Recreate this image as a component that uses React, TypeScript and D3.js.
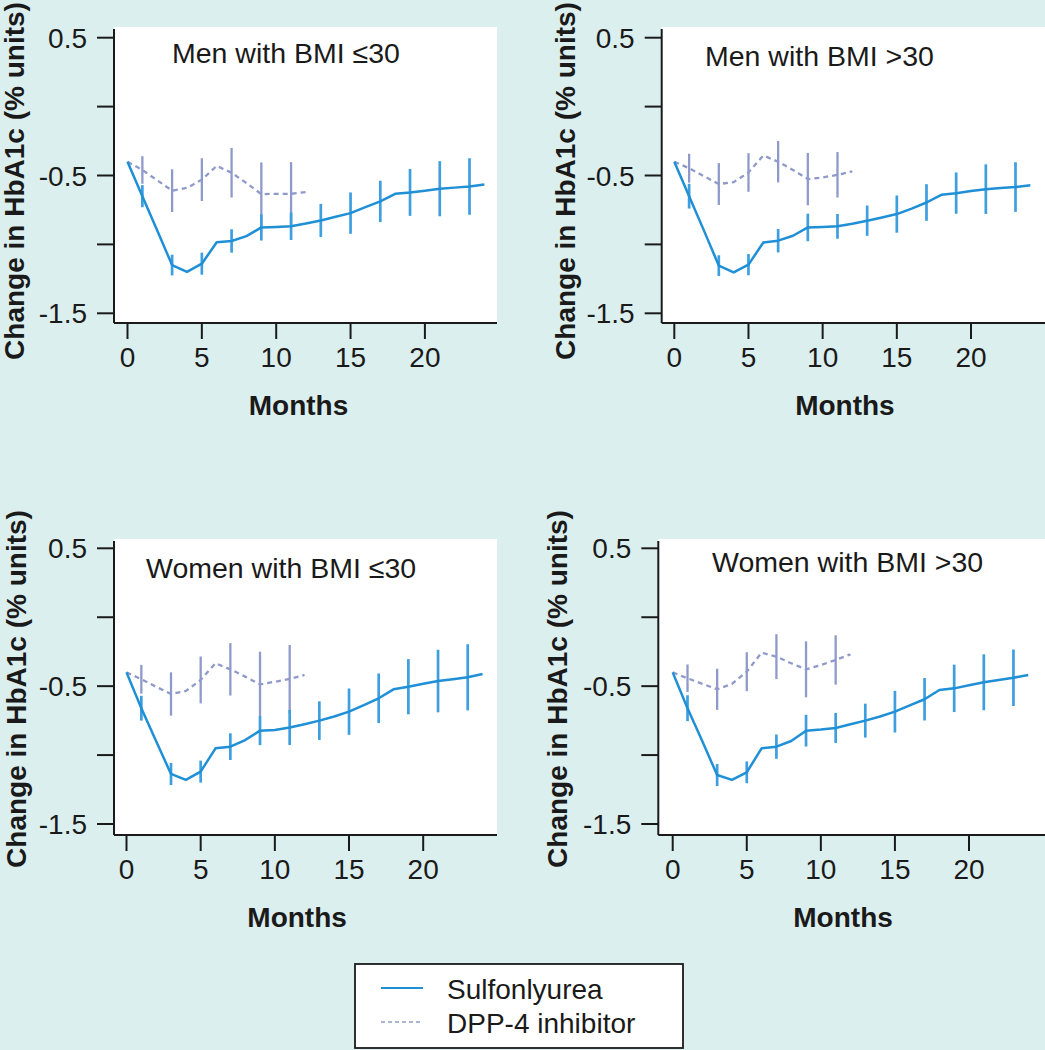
import React from "react";
import * as d3 from "d3";

// ---------- data ----------
const suMonths = d3.range(0, 25);
const dppMonths = d3.range(0, 13);
const suErrMonths = [1, 3, 5, 7, 9, 11, 13, 15, 17, 19, 21, 23];
const dppErrMonths = [1, 3, 5, 7, 9, 11];

const xTicks = [0, 5, 10, 15, 20];
const yTicks = [0.5, 0, -0.5, -1, -1.5];
const yTickLabels = ["0.5", "", "-0.5", "", "-1.5"];

const panelTitles = ["Men with BMI ≤30", "Men with BMI >30", "Women with BMI ≤30", "Women with BMI >30"];

const suMenLow = [-0.40, -0.65, -0.90, -1.15, -1.20, -1.14, -0.985, -0.975, -0.94, -0.877, -0.873, -0.868, -0.848, -0.826, -0.80, -0.773, -0.73, -0.688, -0.633, -0.623, -0.61, -0.596, -0.588, -0.58, -0.565];
const suMenHigh = [-0.40, -0.65, -0.90, -1.154, -1.203, -1.147, -0.986, -0.973, -0.937, -0.877, -0.874, -0.869, -0.85, -0.828, -0.805, -0.78, -0.74, -0.696, -0.64, -0.628, -0.613, -0.599, -0.591, -0.584, -0.57];
const suWomenLow = [-0.40, -0.66, -0.90, -1.137, -1.18, -1.12, -0.951, -0.939, -0.891, -0.823, -0.818, -0.80, -0.776, -0.75, -0.72, -0.685, -0.638, -0.588, -0.523, -0.504, -0.483, -0.463, -0.45, -0.436, -0.412];
const suWomenHigh = [-0.40, -0.66, -0.90, -1.145, -1.18, -1.125, -0.951, -0.939, -0.898, -0.823, -0.815, -0.803, -0.777, -0.75, -0.72, -0.685, -0.64, -0.595, -0.528, -0.516, -0.494, -0.472, -0.455, -0.439, -0.419];

const dppMenLow = [-0.40, -0.46, -0.535, -0.61, -0.59, -0.53, -0.43, -0.48, -0.555, -0.635, -0.633, -0.633, -0.62];
const dppMenHigh = [-0.40, -0.447, -0.505, -0.562, -0.548, -0.478, -0.355, -0.40, -0.46, -0.526, -0.514, -0.495, -0.47];
const dppWomenLow = [-0.40, -0.45, -0.505, -0.557, -0.535, -0.455, -0.334, -0.378, -0.431, -0.487, -0.468, -0.448, -0.419];
const dppWomenHigh = [-0.40, -0.443, -0.483, -0.523, -0.484, -0.395, -0.257, -0.286, -0.334, -0.378, -0.347, -0.31, -0.269];

const suErrMenLow = [0.08, 0.075, 0.08, 0.085, 0.095, 0.10, 0.12, 0.15, 0.15, 0.17, 0.20, 0.205];
const suErrMenHigh = [0.09, 0.075, 0.077, 0.085, 0.10, 0.09, 0.11, 0.135, 0.133, 0.15, 0.18, 0.18];
const suErrWomenLow = [0.09, 0.08, 0.08, 0.097, 0.105, 0.127, 0.14, 0.168, 0.18, 0.20, 0.227, 0.24];
const suErrWomenHigh = [0.094, 0.08, 0.079, 0.088, 0.115, 0.109, 0.123, 0.151, 0.154, 0.172, 0.203, 0.205];

const dppErrMenLow = [0.10, 0.155, 0.155, 0.18, 0.23, 0.23];
const dppErrMenHigh = [0.105, 0.152, 0.14, 0.15, 0.19, 0.165];
const dppErrWomenLow = [0.104, 0.157, 0.17, 0.19, 0.237, 0.247];
const dppErrWomenHigh = [0.10, 0.149, 0.141, 0.163, 0.203, 0.179];

const legendLabels = ["Sulfonlyurea", "DPP-4 inhibitor"];

// ---------- layout ----------
const BG = "#dcefef";
const SU_COLOR = "#1f8fd6";
const SU_ERR = "#3d9fe0";
const DPP_COLOR = "#8f9acb";
const FONT = "'Liberation Sans', Arial, Helvetica, sans-serif";

const panels = [
  { title: panelTitles[0], su: suMenLow, dpp: dppMenLow, suErr: suErrMenLow, dppErr: dppErrMenLow,
    left: 114, right: 497, top: 27, bottom: 323, x0: 127.5, pxm: 14.87, yTop: 37.7, yBot: 313.3,
    titleX: 172, titleY: 63, ylabX: 24, ylabY: 181 },
  { title: panelTitles[1], su: suMenHigh, dpp: dppMenHigh, suErr: suErrMenHigh, dppErr: dppErrMenHigh,
    left: 661.7, right: 1045, top: 27, bottom: 323, x0: 674.3, pxm: 14.835, yTop: 37.7, yBot: 313.3,
    titleX: 705, titleY: 66, ylabX: 575, ylabY: 181 },
  { title: panelTitles[2], su: suWomenLow, dpp: dppWomenLow, suErr: suErrWomenLow, dppErr: dppErrWomenLow,
    left: 114, right: 497, top: 539, bottom: 835, x0: 126.5, pxm: 14.835, yTop: 548.3, yBot: 824,
    titleX: 146, titleY: 578, ylabX: 26, ylabY: 689 },
  { title: panelTitles[3], su: suWomenHigh, dpp: dppWomenHigh, suErr: suErrWomenHigh, dppErr: dppErrWomenHigh,
    left: 658.3, right: 1045, top: 539, bottom: 835, x0: 672.7, pxm: 14.815, yTop: 548.3, yBot: 824,
    titleX: 712, titleY: 572, ylabX: 567, ylabY: 689 },
];

function Panel({ p }: { p: any }) {
  const x = d3.scaleLinear().domain([0, 20]).range([p.x0, p.x0 + 20 * p.pxm]);
  const y = d3.scaleLinear().domain([0.5, -1.5]).range([p.yTop, p.yBot]);
  const line = d3.line<number>().x((_, i) => x(i)).y((d) => y(d));
  const suLine = line(p.su) || "";
  const dppLine = line(p.dpp) || "";
  return (
    <g>
      <rect x={p.left} y={p.top} width={p.right - p.left} height={p.bottom - p.top} fill="#ffffff" />
      {dppErrMonths.map((m, i) => (
        <line key={"de" + m} x1={x(m)} x2={x(m)} y1={y(p.dpp[m] + p.dppErr[i])} y2={y(p.dpp[m] - p.dppErr[i])}
          stroke={DPP_COLOR} strokeWidth={2.3} />
      ))}
      <path d={dppLine} fill="none" stroke={DPP_COLOR} strokeWidth={2.3} strokeDasharray="5,4" />
      {suErrMonths.map((m, i) => (
        <line key={"se" + m} x1={x(m)} x2={x(m)} y1={y(p.su[m] + p.suErr[i])} y2={y(p.su[m] - p.suErr[i])}
          stroke={SU_ERR} strokeWidth={2.7} />
      ))}
      <path d={suLine} fill="none" stroke={SU_COLOR} strokeWidth={2.5} strokeLinejoin="round" />
      <line x1={p.left} x2={p.left} y1={p.top + 2} y2={p.bottom} stroke="#1a1a1a" strokeWidth={2} />
      <line x1={p.left} x2={p.right} y1={p.bottom} y2={p.bottom} stroke="#1a1a1a" strokeWidth={2} />
      {yTicks.map((t, i) => (
        <g key={"yt" + t}>
          <line x1={p.left - 17} x2={p.left} y1={y(t)} y2={y(t)} stroke="#1a1a1a" strokeWidth={2} />
          {yTickLabels[i] && (
            <text x={p.left - 27} y={y(t)} dy="0.36em" textAnchor="end" fontSize={28} fontFamily={FONT} fill="#1a1a1a">
              {yTickLabels[i]}
            </text>
          )}
        </g>
      ))}
      {xTicks.map((t) => (
        <g key={"xt" + t}>
          <line x1={x(t)} x2={x(t)} y1={p.bottom} y2={p.bottom + 16} stroke="#1a1a1a" strokeWidth={2} />
          <text x={x(t)} y={p.bottom + 44} textAnchor="middle" fontSize={28} fontFamily={FONT} fill="#1a1a1a">
            {t}
          </text>
        </g>
      ))}
      <text x={x(11.5)} y={p.bottom + 92} textAnchor="middle" fontSize={28} fontWeight="bold" fontFamily={FONT} fill="#1a1a1a">
        Months
      </text>
      <text transform={`translate(${p.ylabX},${p.ylabY}) rotate(-90)`} textAnchor="middle" fontSize={28} fontWeight="bold"
        fontFamily={FONT} fill="#1a1a1a">
        Change in HbA1c (% units)
      </text>
      <text x={p.titleX} y={p.titleY} fontSize={28.5} fontFamily={FONT} fill="#1a1a1a">
        {p.title}
      </text>
    </g>
  );
}

export default function App() {
  return (
    <div style={{ position: "absolute", left: 0, top: 0 }}>
      <svg width={1045} height={1050} style={{ display: "block" }}>
        <rect x={0} y={0} width={1045} height={1050} fill={BG} />
        {panels.map((p, i) => (
          <Panel key={i} p={p} />
        ))}
        <rect x={355} y={964} width={328} height={84} fill="#ffffff" stroke="#1a1a1a" strokeWidth={1.8} />
        <line x1={381} x2={423} y1={988} y2={988} stroke={SU_COLOR} strokeWidth={2} />
        <line x1={381} x2={423} y1={1022} y2={1022} stroke={DPP_COLOR} strokeWidth={1.6} strokeDasharray="4,3" />
        <text x={447} y={999} fontSize={28} fontFamily={FONT} fill="#1a1a1a">{legendLabels[0]}</text>
        <text x={447} y={1033} fontSize={28} fontFamily={FONT} fill="#1a1a1a">{legendLabels[1]}</text>
      </svg>
    </div>
  );
}
